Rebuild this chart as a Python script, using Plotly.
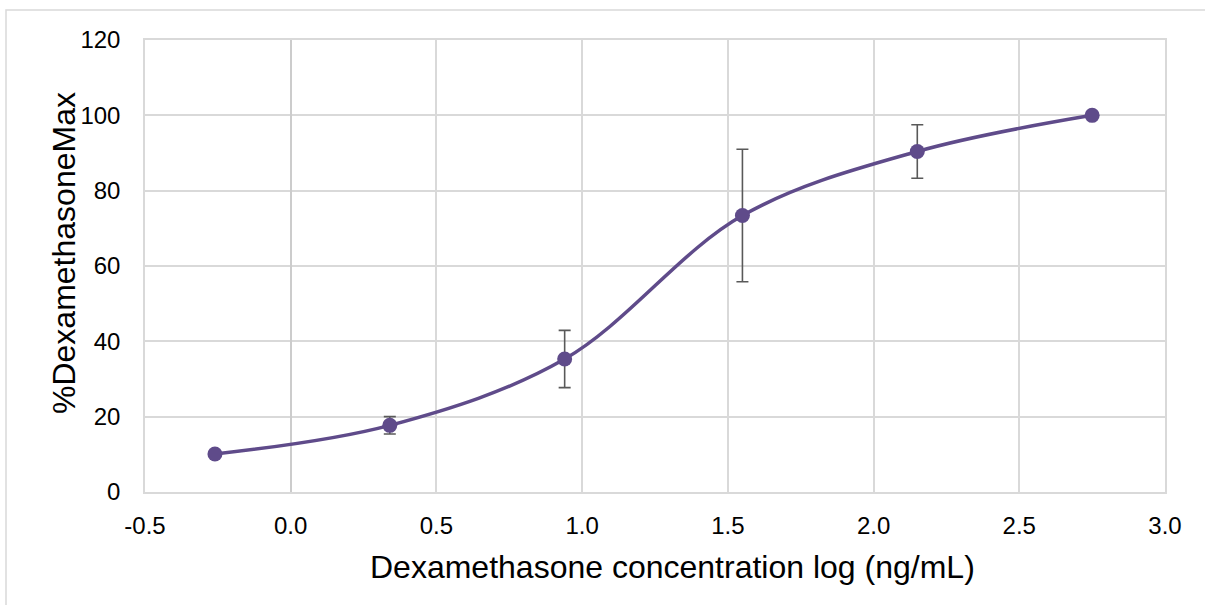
import plotly.graph_objects as go

log_conc = [-0.26, 0.34, 0.94, 1.55, 2.15, 2.75]
pct_max = [10.1, 17.7, 35.3, 73.4, 90.4, 100.0]
err = [0, 2.3, 7.6, 17.6, 7.1, 0]

x_ticks = [-0.5, 0.0, 0.5, 1.0, 1.5, 2.0, 2.5, 3.0]
x_tick_text = ["-0.5", "0.0", "0.5", "1.0", "1.5", "2.0", "2.5", "3.0"]
y_ticks = [0, 20, 40, 60, 80, 100, 120]

x_title = "Dexamethasone concentration log (ng/mL)"
y_title = "%DexamethasoneMax"

purple = "#5f4b8a"
grid = "#d9d9d9"
font = "Liberation Sans, Arial, sans-serif"

fig = go.Figure()
fig.add_trace(go.Scatter(
    x=log_conc, y=pct_max, mode="lines+markers",
    line=dict(color=purple, width=3.5, shape="spline", smoothing=1),
    marker=dict(color=purple, size=15),
    error_y=dict(type="data", array=err, visible=True, color="#595959",
                 thickness=1.6, width=6),
    showlegend=False,
))

fig.update_layout(
    width=1205, height=605,
    margin=dict(l=145, r=40, t=40, b=113),
    paper_bgcolor="white", plot_bgcolor="white",
    font=dict(family=font, color="#000000"),
    xaxis=dict(
        range=[-0.5, 3.0], tickvals=x_ticks, ticktext=x_tick_text,
        showgrid=True, gridcolor=grid, gridwidth=1.5,
        zeroline=True, zerolinecolor="#cccccc", zerolinewidth=1.5,
        showline=True, linecolor=grid, linewidth=1.5, mirror=True,
        ticks="outside", ticklen=11, tickcolor="rgba(0,0,0,0)",
        tickfont=dict(size=24, family=font),
    ),
    yaxis=dict(
        range=[0, 120], tickvals=y_ticks,
        showgrid=True, gridcolor=grid, gridwidth=1.5,
        zeroline=False,
        showline=True, linecolor=grid, linewidth=1.5, mirror=True,
        ticks="outside", ticklen=18, tickcolor="rgba(0,0,0,0)",
        tickfont=dict(size=24, family=font),
    ),
    annotations=[
        dict(text=x_title, xref="paper", yref="paper",
             x=(672 - 145) / 1020, y=(492 - 567) / 452,
             xanchor="center", yanchor="middle", showarrow=False,
             font=dict(size=32, family=font, color="#000000")),
        dict(text=y_title, xref="paper", yref="paper",
             x=(64 - 145) / 1020, y=(492 - 253) / 452,
             xanchor="center", yanchor="middle", showarrow=False, textangle=-90,
             font=dict(size=32, family=font, color="#000000")),
    ],
    shapes=[dict(type="rect", xref="paper", yref="paper",
                 x0=(6 - 145) / 1020, x1=1.2, y0=-0.5, y1=(492 - 10) / 452,
                 line=dict(color=grid, width=1.5), fillcolor="rgba(0,0,0,0)",
                 layer="below")],
)

fig.write_html("out.html")
